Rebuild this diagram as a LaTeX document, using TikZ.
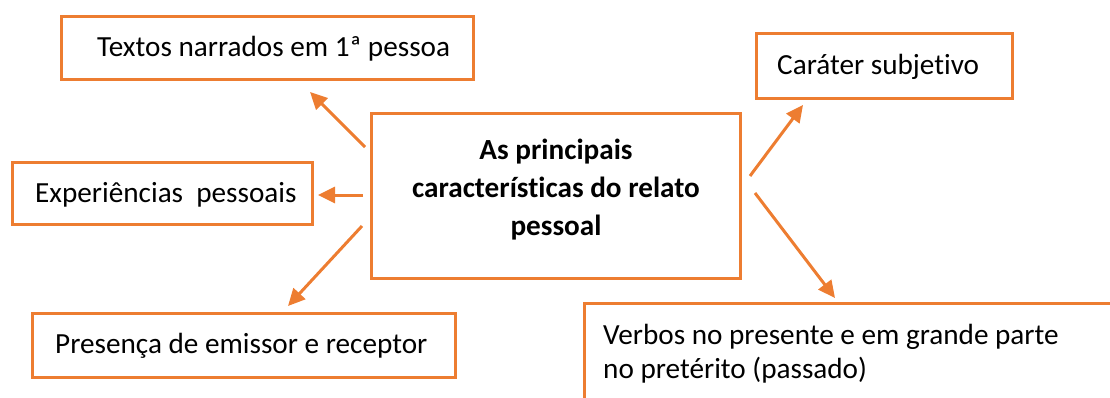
\documentclass[tikz,border=0pt]{standalone}
\usepackage{fontspec}
\setmainfont{Carlito}[Ligatures=NoCommon]
\usetikzlibrary{arrows.meta}
\definecolor{accent}{HTML}{ED7D31}
\begin{document}
\begin{tikzpicture}[x=1pt,y=-1pt,
  box/.style={draw=accent, line width=3pt, inner sep=0pt, rectangle},
  txt/.style={inner sep=0pt, font=\fontsize{29.2}{34}\selectfont},
  arr/.style={draw=accent, line width=3pt, -{Triangle[length=17pt,width=16pt]}}]
\useasboundingbox (0,0) rectangle (1110,398);
\clip (0,0) rectangle (1110,398);
% boxes
\node[box, minimum width=412pt, minimum height=63pt] (b1) at (267,48.5) {};
\node[box, minimum width=300pt, minimum height=61pt] (b2) at (162,193.5) {};
\node[box, minimum width=423pt, minimum height=64pt] (b3) at (243.5,345) {};
\node[box, minimum width=369pt, minimum height=164pt] (c) at (555.5,196) {};
\node[box, minimum width=256pt, minimum height=65pt] (b4) at (884,66.5) {};
\node[box, minimum width=546pt, minimum height=117pt] (b5) at (857,361.5) {};
% texts
\node[txt, anchor=base west] (t1) at (97,57) {Textos narrados em 1ª pessoa};
\node[txt, anchor=base west] (t2) at (35,203) {Experiências\ \ pessoais};
\node[txt, anchor=base west] (t3) at (55,353) {Presença de emissor e receptor};
\node[txt, anchor=base west] (t4) at (777,75) {Caráter subjetivo};
\node[txt, font=\bfseries\fontsize{29.2}{38}\selectfont, align=center] (ct) at (556,190) {As principais\\características do relato\\pessoal};
\node[txt, align=left, anchor=north west] (t5) at (603,324) {Verbos no presente e em grande parte\\no pretérito (passado)};
% arrows
\coordinate (a1s) at (365,147); \coordinate (a1e) at (310,92);
\coordinate (a2s) at (363,195); \coordinate (a2e) at (318,195);
\coordinate (a3s) at (362,226); \coordinate (a3e) at (288,306);
\coordinate (a4s) at (750,176); \coordinate (a4e) at (803,105);
\coordinate (a5s) at (755,193); \coordinate (a5e) at (835,298);
\draw[arr] (a1s) -- (a1e);
\draw[arr] (a2s) -- (a2e);
\draw[arr] (a3s) -- (a3e);
\draw[arr] (a4s) -- (a4e);
\draw[arr] (a5s) -- (a5e);
\end{tikzpicture}
\end{document}
